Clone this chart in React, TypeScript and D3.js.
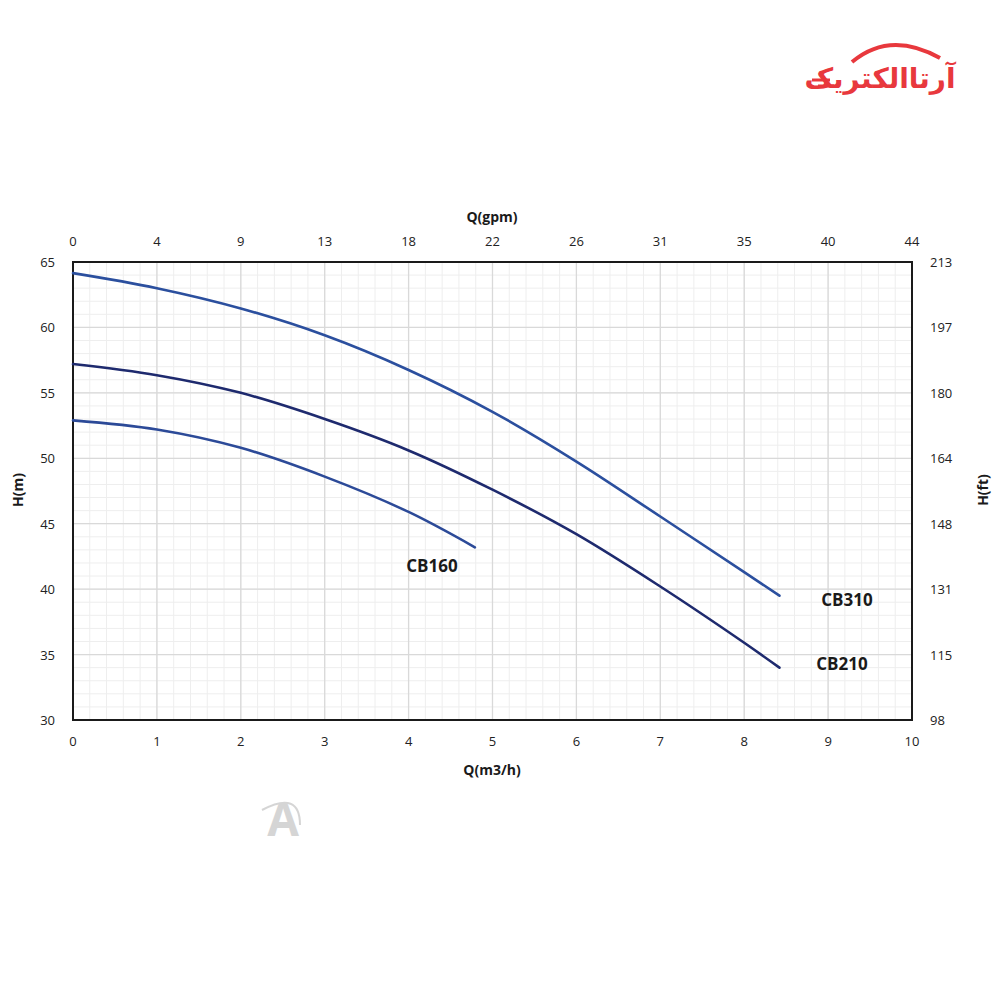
import React from "react";
import * as d3 from "d3";

const qTicks = [0, 1, 2, 3, 4, 5, 6, 7, 8, 9, 10];
const gpmLabels = ["0", "4", "9", "13", "18", "22", "26", "31", "35", "40", "44"];
const hTicks = [30, 35, 40, 45, 50, 55, 60, 65];
const ftLabels = ["98", "115", "131", "148", "164", "180", "197", "213"];

const cb310Q = [0, 1, 2, 3, 4, 5, 6, 7, 8, 8.42];
const cb310H = [64.15, 63.0, 61.45, 59.4, 56.75, 53.55, 49.75, 45.55, 41.3, 39.5];
const cb210Q = [0, 1, 2, 3, 4, 5, 6, 7, 8, 8.42];
const cb210H = [57.2, 56.35, 55.0, 53.0, 50.6, 47.6, 44.2, 40.2, 35.9, 34.0];
const cb160Q = [0, 1, 2, 3, 4, 4.79];
const cb160H = [52.9, 52.2, 50.8, 48.6, 45.9, 43.2];

const series = [
  { name: "CB310", q: cb310Q, h: cb310H, color: "#2b4f9e", lx: 847, ly: 599 },
  { name: "CB210", q: cb210Q, h: cb210H, color: "#1e2a6e", lx: 842, ly: 663 },
  { name: "CB160", q: cb160Q, h: cb160H, color: "#2c4a98", lx: 432, ly: 565 },
];

const L = 73, R = 912, T = 262, B = 720;
const font = "'Open Sans', 'DejaVu Sans', sans-serif";

export default function App() {
  const x = d3.scaleLinear().domain([0, 10]).range([L, R]);
  const y = d3.scaleLinear().domain([30, 65]).range([B, T]);
  const line = d3.line<[number, number]>().x(d => x(d[0])).y(d => y(d[1])).curve(d3.curveCatmullRom.alpha(0.5));
  const minorX = d3.range(0, 10.001, 0.2);
  const minorY = d3.range(30, 65.001, 1);

  return (
    <svg width={1000} height={1000} style={{ position: "absolute", left: 0, top: 0, background: "#fff" }} fontFamily={font}>
      <rect x={0} y={0} width={1000} height={1000} fill="#fff" />
      {/* Logo */}
      <g>
        <path d="M852,62 Q890,30 940,58" fill="none" stroke="#e8383d" strokeWidth={4} />
        <text x={880} y={88} textAnchor="middle" fontSize={28} fontWeight="bold" fill="#e8383d" fontFamily="'DejaVu Sans', sans-serif" direction="rtl">آرتاالکتریک</text>
        <line x1={812} y1={80} x2={830} y2={80} stroke="#e8383d" strokeWidth={3} />
        <line x1={818} y1={86} x2={834} y2={86} stroke="#e8383d" strokeWidth={3} />
      </g>
      {/* Watermark */}
      <g opacity={0.35}>
        <text x={283} y={836} textAnchor="middle" fontSize={46} fontWeight="bold" fill="#8a8a8a">A</text>
        <path d="M262,810 Q300,790 300,825" fill="none" stroke="#8a8a8a" strokeWidth={2} />
      </g>
      {/* grid */}
      {minorX.map((v, i) => (
        <line key={"mx" + i} x1={x(v)} x2={x(v)} y1={T} y2={B} stroke="#eeeeee" strokeWidth={1} />
      ))}
      {minorY.map((v, i) => (
        <line key={"my" + i} x1={L} x2={R} y1={y(v)} y2={y(v)} stroke="#eeeeee" strokeWidth={1} />
      ))}
      {qTicks.map(v => (
        <line key={"Mx" + v} x1={x(v)} x2={x(v)} y1={T} y2={B} stroke="#d9d9d9" strokeWidth={1.3} />
      ))}
      {hTicks.map(v => (
        <line key={"My" + v} x1={L} x2={R} y1={y(v)} y2={y(v)} stroke="#d9d9d9" strokeWidth={1.3} />
      ))}
      <rect x={L} y={T} width={R - L} height={B - T} fill="none" stroke="#1a1a1a" strokeWidth={2} />
      {/* curves */}
      {series.map(s => (
        <path key={s.name} d={line(s.q.map((q, i) => [q, s.h[i]] as [number, number])) || ""} fill="none" stroke={s.color} strokeWidth={2.6} strokeLinecap="round" />
      ))}
      {series.map(s => (
        <text key={s.name + "l"} x={s.lx} y={s.ly} textAnchor="middle" dominantBaseline="central" fontSize={17} fontWeight="bold" fill="#1a1a1a">{s.name}</text>
      ))}
      {/* bottom ticks */}
      {qTicks.map(v => (
        <text key={"bt" + v} x={x(v)} y={741} textAnchor="middle" dominantBaseline="central" fontSize={13} fill="#222">{v}</text>
      ))}
      {qTicks.map((v, i) => (
        <text key={"tt" + v} x={x(v)} y={241} textAnchor="middle" dominantBaseline="central" fontSize={13} fill="#222">{gpmLabels[i]}</text>
      ))}
      {hTicks.map(v => (
        <text key={"lt" + v} x={55} y={y(v)} textAnchor="end" dominantBaseline="central" fontSize={13} fill="#222">{v}</text>
      ))}
      {hTicks.map((v, i) => (
        <text key={"rt" + v} x={930} y={y(v)} textAnchor="start" dominantBaseline="central" fontSize={13} fill="#222">{ftLabels[i]}</text>
      ))}
      <text x={492} y={216} textAnchor="middle" dominantBaseline="central" fontSize={14} fontWeight="bold" fill="#1a1a1a">Q(gpm)</text>
      <text x={492} y={769} textAnchor="middle" dominantBaseline="central" fontSize={14} fontWeight="bold" fill="#1a1a1a">Q(m3/h)</text>
      <text transform="translate(17,490) rotate(-90)" textAnchor="middle" dominantBaseline="central" fontSize={14} fontWeight="bold" fill="#1a1a1a">H(m)</text>
      <text transform="translate(982,490) rotate(-90)" textAnchor="middle" dominantBaseline="central" fontSize={14} fontWeight="bold" fill="#1a1a1a">H(ft)</text>
    </svg>
  );
}
